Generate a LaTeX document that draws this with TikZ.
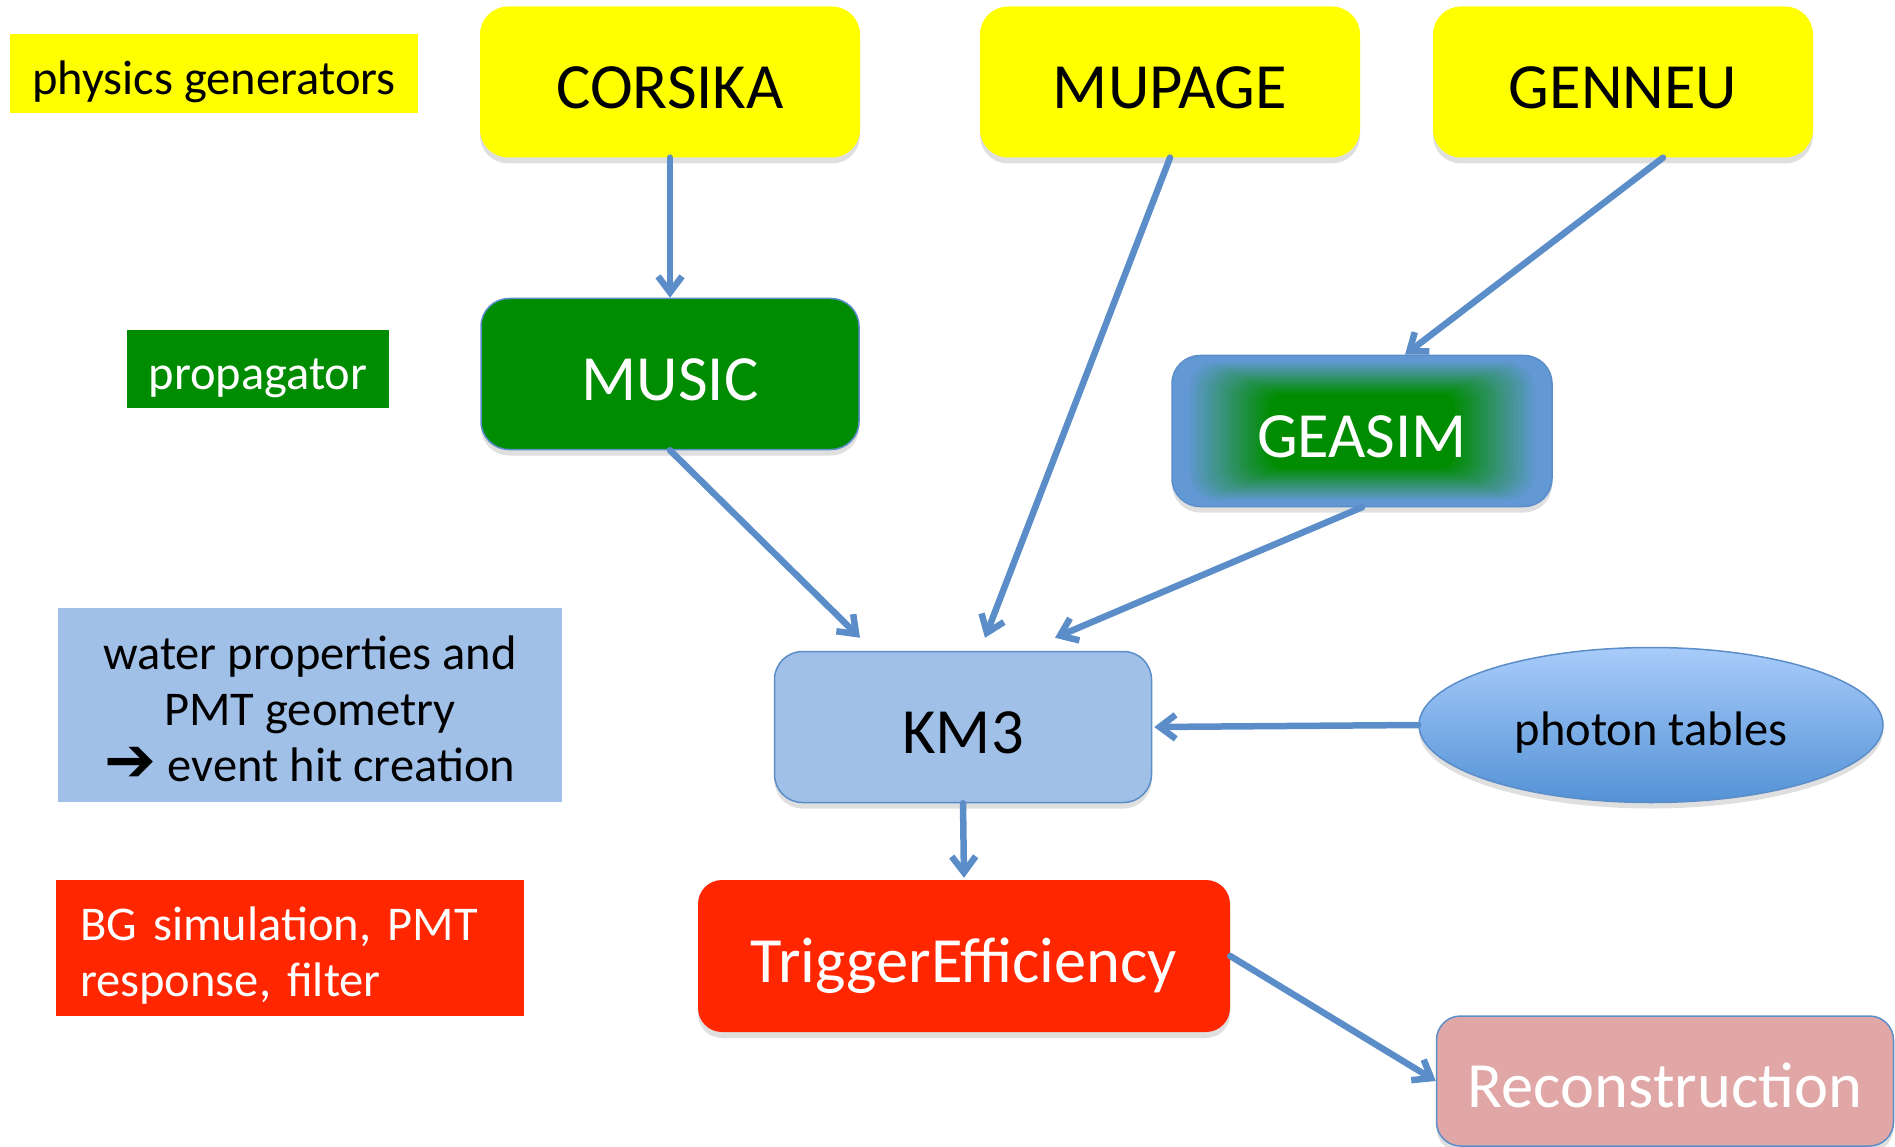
\documentclass[tikz,border=0pt]{standalone}
\usepackage{fontspec}
\setmainfont{Carlito}
\newfontfamily\symfont{DejaVu Sans}
\usetikzlibrary{arrows.meta,shapes.geometric,shadows}

\definecolor{genyellow}{RGB}{255,255,0}
\definecolor{propgreen}{RGB}{0,140,0}
\definecolor{kmblue}{RGB}{160,192,232}
\definecolor{edgeblue}{RGB}{91,141,201}
\definecolor{trigred}{RGB}{255,38,0}
\definecolor{recopink}{RGB}{224,167,166}
\definecolor{geablue}{RGB}{98,152,212}
\definecolor{phototop}{RGB}{168,204,250}
\definecolor{photobot}{RGB}{84,146,214}

\newcommand{\mainsize}{\fontsize{64.5}{77}\selectfont}
\newcommand{\legendsize}{\fontsize{48.5}{56}\selectfont}

\begin{document}
\begin{tikzpicture}[x=1pt,y=-1pt,
  box/.style={rectangle,rounded corners=28pt,minimum width=380pt,minimum height=151pt,
    inner sep=0pt,font=\mainsize,text height=69.7pt,text depth=16.1pt,
    drop shadow={shadow xshift=0pt,shadow yshift=-6pt,opacity=0.25}},
  legend/.style={rectangle,inner sep=0pt,font=\legendsize},
  oneline/.style={text height=52.4pt,text depth=12.1pt},
  % blue rim fading into a green core
  geafill/.style={fill=geablue,path picture={
    \foreach \k [evaluate=\k as \p using int(5*\k), evaluate=\k as \s using 0.93-0.022*\k] in {0,...,20}
      \fill[propgreen!\p!geablue,rounded corners=\s*30pt]
        ([shift={(-\s*190,-\s*76)}]path picture bounding box.center) rectangle
        ([shift={(\s*190,\s*76)}]path picture bounding box.center);}},
  flow/.style={draw=edgeblue,line width=6.5pt,line cap=round,-{Straight Barb[length=16pt,width=24pt]}}]

\useasboundingbox (0,0) rectangle (1895,1147);

% legend
\node[legend,oneline,fill=genyellow,minimum width=408pt,minimum height=79pt] (physgen) at (214,74) {physics generators};
\node[legend,oneline,fill=propgreen,text=white,minimum width=262pt,minimum height=78pt] (propag) at (258,369) {propagator};
\node[legend,fill=kmblue,minimum width=504pt,minimum height=194pt,align=center,text height=164pt,text depth=12pt] (water) at (310,705)
  {water properties and\\PMT geometry\\{\symfont\fontsize{62}{56}\selectfont ➔} event hit creation};
\node[legend,fill=trigred,text=white,text width=420pt,inner xsep=24pt,minimum height=136pt,align=left,
  text height=40pt,text depth=56pt] (bgsim) at (290,948)
  {BG simulation, PMT\\response, filter};

% chain
\node[box,fill=genyellow] (corsika) at (670,82) {CORSIKA};
\node[box,fill=genyellow] (mupage)  at (1170,82) {MUPAGE};
\node[box,fill=genyellow] (genneu)  at (1623,82) {GENNEU};
\node[box,fill=propgreen,draw=edgeblue,line width=1.5pt,text=white,minimum width=378pt] (music) at (670,374) {MUSIC};
\node[box,draw=edgeblue,line width=1.5pt,geafill,text=white] (geasim) at (1362,431) {GEASIM};
\node[box,fill=kmblue,draw=edgeblue,line width=1.5pt,minimum width=377pt] (km3) at (963,727) {KM3};
\node[ellipse,draw=edgeblue,line width=1.5pt,top color=phototop,bottom color=photobot,minimum width=464pt,minimum height=155pt,
  inner sep=0pt,font=\legendsize,oneline,drop shadow={shadow xshift=0pt,shadow yshift=-6pt,opacity=0.25}] (photon) at (1651,725) {photon tables};
\node[box,fill=trigred,text=white,rounded corners=24pt,minimum width=532pt,minimum height=152pt] (trigger) at (964,956) {TriggerEfficiency};
\node[box,fill=recopink,draw=edgeblue,line width=1.5pt,text=white,rounded corners=24pt,minimum width=457pt,minimum height=130pt] (reco) at (1665,1081) {Reconstruction};

\path[every edge/.style=flow]
(corsika.south) edge (music.north)
(mupage.south)  edge ([xshift=22pt,yshift=13pt]km3.north)
([xshift=40pt]genneu.south) edge ([xshift=43pt]geasim.north)
(music.south)   edge ([xshift=-103pt,yshift=13pt]km3.north)
(geasim.south)  edge ([xshift=92pt,yshift=13pt]km3.north)
(photon.west)   edge ([xshift=2pt]km3.east)
(km3.south)     edge ([yshift=2pt]trigger.north)
(trigger.east)  edge (reco.west)
;
\end{tikzpicture}
\end{document}
